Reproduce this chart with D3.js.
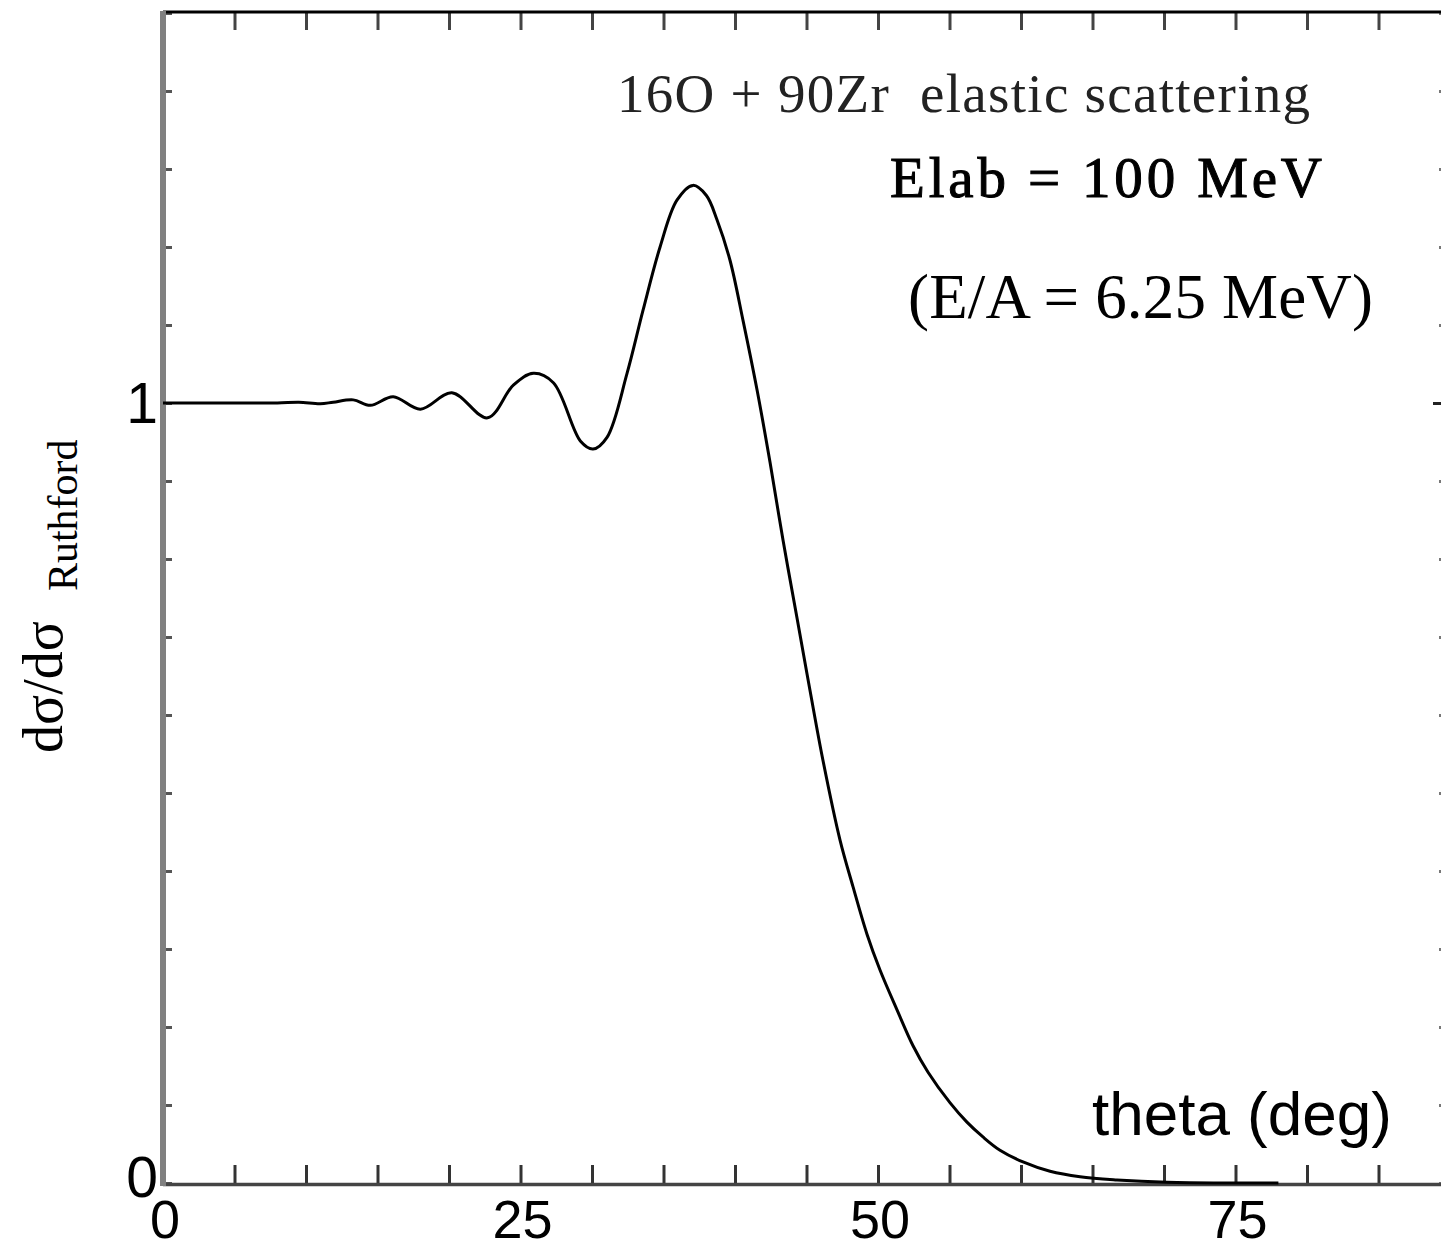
<!DOCTYPE html>
<html>
<head>
<meta charset="utf-8">
<script src="https://cdn.jsdelivr.net/npm/d3@7"></script>
<style>
  body { margin: 0; background: #fff; }
  svg { display: block; }
</style>
</head>
<body>
<div id="vis"></div>
<script>
// angle (deg) and cross section ratio
var thetaDeg = [0, 4, 8, 9.5, 11, 11.9, 13.3, 14.5, 16.1, 18.0, 20.2, 22.7, 24.5, 25.9,
    27.3, 29.2, 30.07, 31.05, 32.45, 33.57, 34.76, 35.94, 37.06, 38.0, 38.74, 39.65,
    40.56, 41.54, 42.45, 43.36, 44.34, 45.24, 46.15, 47.34, 48.25, 49.23, 50.14, 51.33,
    52.45, 53.5, 55.03, 56.22, 57.34, 58.53, 60.14, 62.03, 64.13, 66.71, 70.21, 74.6, 78];
var ratio = [1, 1, 1, 1.001, 0.999, 1.001, 1.004, 0.997, 1.008, 0.992, 1.013, 0.981, 1.023, 1.038,
    1.026, 0.951, 0.941, 0.956, 1.038, 1.119, 1.2, 1.26, 1.279, 1.266, 1.235, 1.183,
    1.106, 1.017, 0.924, 0.824, 0.724, 0.632, 0.542, 0.44, 0.38, 0.319, 0.273, 0.222,
    0.176, 0.142, 0.103, 0.078, 0.059, 0.042, 0.027, 0.015, 0.008, 0.004, 0.001, 0.0, 0.0];

var xTicks = d3.range(0, 91, 5);
var xLabels = [0, 25, 50, 75];
var yTicks = d3.range(0, 16).map(function(i) { return i / 10; });
var yLabels = [0, 1];

var width = 1441;
var height = 1251;

var svg = d3.select('#vis')
    .append('svg')
    .attr('width', width)
    .attr('height', height);

var x_scale = d3.scaleLinear()
    .domain([0, 90])
    .range([163, 1450]);

var y_scale = d3.scaleLinear()
    .domain([0, 1.5])
    .range([1183, 13]);

// ticks (all pointing inward)
svg.append('g')
    .attr('transform', 'translate(0,' + y_scale(0) + ')')
    .call(d3.axisBottom(x_scale).tickValues(xTicks).tickSize(-18).tickFormat(''))
    .call(function(g) {
        g.select('.domain').remove();
        g.selectAll('line').attr('stroke', '#333').attr('stroke-width', 3);
    });

svg.append('g')
    .attr('transform', 'translate(0,' + y_scale(1.5) + ')')
    .call(d3.axisTop(x_scale).tickValues(xTicks).tickSize(-17).tickFormat(''))
    .call(function(g) {
        g.select('.domain').remove();
        g.selectAll('line').attr('stroke', '#444').attr('stroke-width', 3);
    });

svg.append('g')
    .attr('transform', 'translate(' + x_scale(0) + ',0)')
    .call(d3.axisLeft(y_scale).tickValues(yTicks).tickSize(-9).tickFormat(''))
    .call(function(g) {
        g.select('.domain').remove();
        g.selectAll('line').attr('stroke', '#555').attr('stroke-width', 3);
    });

svg.append('g')
    .attr('transform', 'translate(' + x_scale(90) + ',0)')
    .call(d3.axisRight(y_scale).tickValues(yTicks).tickSize(-11).tickFormat(''))
    .call(function(g) {
        g.select('.domain').remove();
        g.selectAll('line').attr('stroke', '#777').attr('stroke-width', 3);
        g.selectAll('.tick').filter(function(d) { return d === 1; })
            .select('line').attr('x2', -17).attr('stroke', '#222');
    });

// frame
svg.append('line')
    .attr('x1', x_scale(0)).attr('x2', x_scale(90))
    .attr('y1', y_scale(1.5) - 1).attr('y2', y_scale(1.5) - 1)
    .attr('stroke', '#000').attr('stroke-width', 3);

svg.append('line')
    .attr('x1', x_scale(0)).attr('x2', x_scale(90))
    .attr('y1', y_scale(0) + 1.5).attr('y2', y_scale(0) + 1.5)
    .attr('stroke', '#444').attr('stroke-width', 3.5);

svg.append('line')
    .attr('x1', x_scale(0)).attr('x2', x_scale(0))
    .attr('y1', y_scale(1.5) - 2).attr('y2', y_scale(0) + 3)
    .attr('stroke', '#808080').attr('stroke-width', 6);

// tick labels
svg.append('g')
    .selectAll('text')
    .data(xLabels)
    .enter()
    .append('text')
    .attr('x', function(d) { return x_scale(d) + 2; })
    .attr('y', 1238)
    .attr('text-anchor', 'middle')
    .style('font-family', '"Liberation Sans", Arial, sans-serif')
    .style('font-size', '54px')
    .text(function(d) { return d; });

svg.append('g')
    .selectAll('text')
    .data(yLabels)
    .enter()
    .append('text')
    .attr('x', 158)
    .attr('y', function(d) { return y_scale(d) + (d === 0 ? 14 : 20); })
    .attr('text-anchor', 'end')
    .style('font-family', '"Liberation Sans", Arial, sans-serif')
    .style('font-size', '57px')
    .text(function(d) { return d; });

// curve
var line = d3.line()
    .x(function(d, i) { return x_scale(thetaDeg[i]); })
    .y(function(d) { return y_scale(d); })
    .curve(d3.curveCatmullRom.alpha(0.5));

svg.append('path')
    .datum(ratio)
    .attr('d', line)
    .attr('fill', 'none')
    .attr('stroke', '#000')
    .attr('stroke-width', 3);

// axis titles
svg.append('text')
    .attr('x', 1092)
    .attr('y', 1135)
    .style('font-family', '"Liberation Sans", Arial, sans-serif')
    .style('font-size', '62px')
    .text('theta (deg)');

var ylab = svg.append('text')
    .attr('transform', 'translate(62,753) rotate(-90)')
    .style('font-family', '"Liberation Serif", "Times New Roman", serif')
    .style('font-size', '56px');
ylab.append('tspan').text('dσ/dσ');
ylab.append('tspan')
    .attr('dy', 15)
    .attr('dx', 30)
    .style('font-size', '42px')
    .text('Ruthford');

// annotations
svg.append('text')
    .attr('x', 617)
    .attr('y', 112)
    .attr('textLength', 693)
    .attr('lengthAdjust', 'spacing')
    .style('white-space', 'pre')
    .style('font-family', '"Liberation Serif", "Times New Roman", serif')
    .style('font-size', '55px')
    .style('fill', '#222')
    .text('16O + 90Zr  elastic scattering');

svg.append('text')
    .attr('x', 890)
    .attr('y', 197)
    .attr('textLength', 432)
    .attr('lengthAdjust', 'spacing')
    .style('font-family', '"Liberation Serif", "Times New Roman", serif')
    .style('font-size', '57px')
    .style('stroke', '#000')
    .style('stroke-width', 1)
    .text('Elab = 100 MeV');

svg.append('text')
    .attr('x', 908)
    .attr('y', 318)
    .attr('textLength', 465)
    .attr('lengthAdjust', 'spacing')
    .style('font-family', '"Liberation Serif", "Times New Roman", serif')
    .style('font-size', '63px')
    .text('(E/A = 6.25 MeV)');
</script>
</body>
</html>
